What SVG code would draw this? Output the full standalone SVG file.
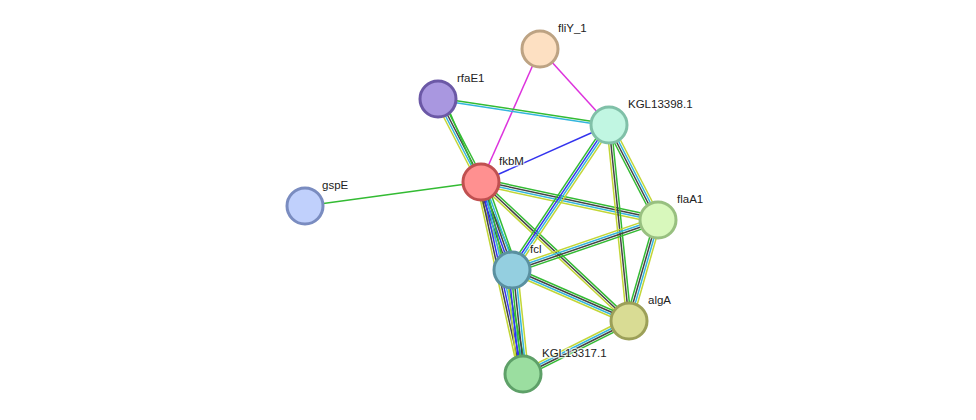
<svg xmlns="http://www.w3.org/2000/svg" width="976" height="420" viewBox="0 0 976 420">
<style>
.e line{stroke-width:1.5;fill:none}
.g{stroke:#33bb33}.c{stroke:#33b5dd}.k{stroke:#444444}.y{stroke:#c2d636}.b{stroke:#3333ee}.m{stroke:#dd33dd}
.n circle{stroke-width:3}
text{font-family:"Liberation Sans",Arial,sans-serif;font-size:11.5px;fill:#222;stroke:#fff;stroke-width:2.5px;stroke-opacity:0.7;paint-order:stroke}
</style>
<rect width="976" height="420" fill="#fff"/>
<g id="edges" class="e">
<line class="m" x1="540" y1="49" x2="481" y2="182"/>
<line class="m" x1="540" y1="49" x2="609" y2="125"/>
<line class="g" x1="481" y1="182" x2="305" y2="206"/>
<line class="b" x1="481" y1="182" x2="609" y2="125"/>
<g transform="translate(438,99) rotate(8.65)"><line class="g" x1="0" y1="-1.1" x2="173" y2="-1.1"/><line class="c" x1="0" y1="1.1" x2="173" y2="1.1"/></g>
<g transform="translate(438,99) rotate(62.6)"><line class="g" x1="0" y1="-3.3" x2="93.5" y2="-3.3"/><line class="k" x1="0" y1="-1.1" x2="93.5" y2="-1.1"/><line class="c" x1="0" y1="1.1" x2="93.5" y2="1.1"/><line class="y" x1="0" y1="3.3" x2="93.5" y2="3.3"/></g>
<g transform="translate(438,99) rotate(66.6)"><line class="g" x1="0" y1="-5.5" x2="186.3" y2="-5.5"/></g>
<g transform="translate(481,182) rotate(12.12)"><line class="g" x1="0" y1="-3.3" x2="181" y2="-3.3"/><line class="k" x1="0" y1="-1.1" x2="181" y2="-1.1"/><line class="c" x1="0" y1="1.1" x2="181" y2="1.1"/><line class="y" x1="0" y1="3.3" x2="181" y2="3.3"/></g>
<g transform="translate(481,182) rotate(43.2)"><line class="g" x1="0" y1="-2.2" x2="203" y2="-2.2"/><line class="k" x1="0" y1="0" x2="203" y2="0"/><line class="y" x1="0" y1="2.2" x2="203" y2="2.2"/></g>
<g transform="translate(481,182) rotate(70.6)"><line class="g" x1="0" y1="-5.5" x2="93.3" y2="-5.5"/><line class="c" x1="0" y1="-3.3" x2="93.3" y2="-3.3"/><line class="k" x1="0" y1="-1.1" x2="93.3" y2="-1.1"/><line class="b" x1="0" y1="1.1" x2="93.3" y2="1.1"/><line class="k" x1="0" y1="3.3" x2="93.3" y2="3.3"/><line class="y" x1="0" y1="5.5" x2="93.3" y2="5.5"/></g>
<g transform="translate(481,182) rotate(77.66)"><line class="g" x1="0" y1="-4.4" x2="196.5" y2="-4.4"/><line class="c" x1="0" y1="-2.2" x2="196.5" y2="-2.2"/><line class="b" x1="0" y1="0" x2="196.5" y2="0"/><line class="k" x1="0" y1="2.2" x2="196.5" y2="2.2"/><line class="y" x1="0" y1="4.4" x2="196.5" y2="4.4"/></g>
<g transform="translate(609,125) rotate(123.8)"><line class="y" x1="0" y1="-3.3" x2="174.5" y2="-3.3"/><line class="c" x1="0" y1="-1.1" x2="174.5" y2="-1.1"/><line class="b" x1="0" y1="1.1" x2="174.5" y2="1.1"/><line class="g" x1="0" y1="3.3" x2="174.5" y2="3.3"/></g>
<g transform="translate(609,125) rotate(62.7)"><line class="y" x1="0" y1="-3.3" x2="106.9" y2="-3.3"/><line class="c" x1="0" y1="-1.1" x2="106.9" y2="-1.1"/><line class="k" x1="0" y1="1.1" x2="106.9" y2="1.1"/><line class="g" x1="0" y1="3.3" x2="106.9" y2="3.3"/></g>
<g transform="translate(609,125) rotate(84.17)"><line class="g" x1="0" y1="-2.2" x2="197" y2="-2.2"/><line class="k" x1="0" y1="0" x2="197" y2="0"/><line class="y" x1="0" y1="2.2" x2="197" y2="2.2"/></g>
<g transform="translate(512,270) rotate(-18.9)"><line class="y" x1="0" y1="-3.3" x2="154.3" y2="-3.3"/><line class="c" x1="0" y1="-1.1" x2="154.3" y2="-1.1"/><line class="k" x1="0" y1="1.1" x2="154.3" y2="1.1"/><line class="g" x1="0" y1="3.3" x2="154.3" y2="3.3"/></g>
<g transform="translate(658,220) rotate(106)"><line class="y" x1="0" y1="-3.3" x2="105.1" y2="-3.3"/><line class="c" x1="0" y1="-1.1" x2="105.1" y2="-1.1"/><line class="k" x1="0" y1="1.1" x2="105.1" y2="1.1"/><line class="g" x1="0" y1="3.3" x2="105.1" y2="3.3"/></g>
<g transform="translate(512,270) rotate(23.55)"><line class="g" x1="0" y1="-3.3" x2="127.6" y2="-3.3"/><line class="k" x1="0" y1="-1.1" x2="127.6" y2="-1.1"/><line class="c" x1="0" y1="1.1" x2="127.6" y2="1.1"/><line class="y" x1="0" y1="3.3" x2="127.6" y2="3.3"/></g>
<g transform="translate(523,374) rotate(-26.57)"><line class="y" x1="0" y1="-3.3" x2="118.5" y2="-3.3"/><line class="c" x1="0" y1="-1.1" x2="118.5" y2="-1.1"/><line class="k" x1="0" y1="1.1" x2="118.5" y2="1.1"/><line class="g" x1="0" y1="3.3" x2="118.5" y2="3.3"/></g>
<g transform="translate(512,270) rotate(83.96)"><line class="y" x1="0" y1="-5.5" x2="104.6" y2="-5.5"/><line class="c" x1="0" y1="-3.3" x2="104.6" y2="-3.3"/><line class="k" x1="0" y1="-1.1" x2="104.6" y2="-1.1"/><line class="g" x1="0" y1="1.1" x2="104.6" y2="1.1"/><line class="b" x1="0" y1="3.3" x2="104.6" y2="3.3"/><line class="y" x1="0" y1="5.5" x2="104.6" y2="5.5"/></g>
</g>
<g id="fliY_1" class="n"><circle cx="540" cy="49" r="18" fill="#fde0c2" stroke="#bda383"/><text x="558" y="32">fliY_1</text></g>
<g id="rfaE1" class="n"><circle cx="438" cy="99" r="18" fill="#a997e0" stroke="#6b58a6"/><text x="457" y="82">rfaE1</text></g>
<g id="KGL13398.1" class="n"><circle cx="609" cy="125" r="18" fill="#c1f6e2" stroke="#80c0a8"/><text x="628" y="108">KGL13398.1</text></g>
<g id="fkbM" class="n"><circle cx="481" cy="182" r="18" fill="#ff9090" stroke="#c05050"/><text x="499" y="165">fkbM</text></g>
<g id="gspE" class="n"><circle cx="305" cy="206" r="18" fill="#c0d0fc" stroke="#7a8cc0"/><text x="322" y="189">gspE</text></g>
<g id="flaA1" class="n"><circle cx="658" cy="220" r="18" fill="#d8f8bc" stroke="#98c080"/><text x="677" y="203">flaA1</text></g>
<g id="fcl" class="n"><circle cx="512" cy="270" r="18" fill="#94cfe0" stroke="#5a90a0"/><text x="530" y="253">fcl</text></g>
<g id="algA" class="n"><circle cx="629" cy="321" r="18" fill="#d9dc94" stroke="#9ca058"/><text x="648" y="304">algA</text></g>
<g id="KGL13317.1" class="n"><circle cx="523" cy="374" r="18" fill="#9bdea0" stroke="#5ea068"/><text x="542" y="357">KGL13317.1</text></g>
</svg>
